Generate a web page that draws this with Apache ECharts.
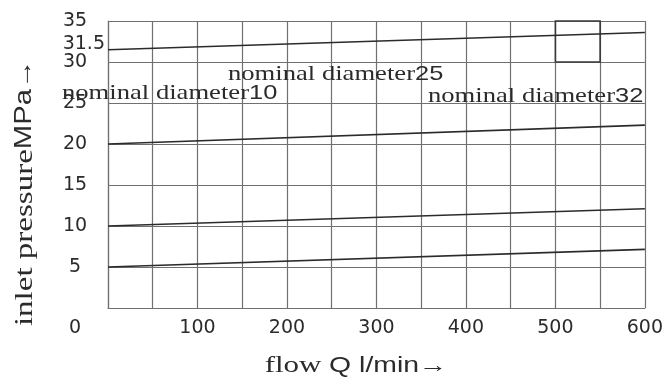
<!DOCTYPE html>
<html>
<head>
<meta charset="utf-8">
<script src="https://cdn.jsdelivr.net/npm/echarts@6/dist/echarts.min.js"></script>
<style>
  html, body { margin: 0; padding: 0; background: #fff; }
  #chart { width: 666px; height: 379px; }
</style>
</head>
<body>
<div id="chart"></div>
<script>
// Flow range covered by each pressure curve (l/min)
const flowQ = [0, 600];
// Inlet pressure curves (MPa) at each flow in flowQ
const curve315 = [31.5, 33.6];
const curve20 = [20, 22.3];
const curve10 = [10, 12.1];
const curve5 = [5, 7.15];
// Rated working window: flow 500–550, pressure 30–35
const windowFlow = [500, 550];
const windowPressure = [30, 35];
// Zone captions
const zoneNames = ['nominal diameter', 'nominal diameter', 'nominal diameter'];
const zoneSizes = ['10', '25', '32'];

const SERIF = '"Liberation Serif", "Times New Roman", serif';
const SANS = '"DejaVu Sans", Arial, sans-serif';
const SANS2 = '"Liberation Sans", Arial, sans-serif';
const INK = '#2b2b2b';
const GRID = '#707070';

const chart = echarts.init(document.getElementById('chart'), null, { renderer: 'canvas' });

function pairs(ys) {
  return flowQ.map((x, i) => [x, ys[i]]);
}

function curve(name, ys, extra) {
  return Object.assign({
    name: name,
    type: 'line',
    data: pairs(ys),
    symbol: 'circle',
    symbolSize: 0,
    showSymbol: true,
    silent: true,
    animation: false,
    itemStyle: { color: INK },
    lineStyle: { color: INK, width: 1.6 },
    z: 5
  }, extra || {});
}

// the starting pressure of the top curve is printed beside the axis
const top315 = pairs(curve315);
top315[0] = {
  value: top315[0],
  label: {
    show: true,
    position: 'left',
    distance: 3,
    offset: [0, -6],
    formatter: p => String(p.value[1]),
    color: INK,
    fontFamily: SANS,
    fontSize: 19
  }
};

const captionRich = {
  s: { fontFamily: SERIF, fontSize: 22, fill: INK },
  n: { fontFamily: SANS2, fontSize: 21, fill: INK }
};

// caption anchored at its left edge, vertically centred on y
function caption(i, x, y) {
  return {
    type: 'text',
    x: x,
    y: y,
    scaleX: 1.21,
    z: 10,
    style: {
      text: '{s|' + zoneNames[i] + '}{n|' + zoneSizes[i] + '}',
      rich: captionRich,
      align: 'left',
      verticalAlign: 'middle',
      fill: INK
    }
  };
}

chart.setOption({
  animation: false,
  backgroundColor: '#fff',
  grid: { left: 108, right: 20, top: 21, bottom: 71, containLabel: false },
  xAxis: {
    type: 'value',
    min: 0,
    max: 600,
    interval: 50,
    axisLine: { show: true, lineStyle: { color: GRID, width: 1.2 } },
    axisTick: { show: false },
    splitLine: { show: true, lineStyle: { color: GRID, width: 1.2 } },
    axisLabel: {
      margin: 11,
      color: INK,
      fontFamily: SANS,
      fontSize: 19,
      formatter: v => (v > 0 && v % 100 === 0 ? String(v) : '')
    }
  },
  yAxis: {
    type: 'value',
    min: 0,
    max: 35,
    interval: 5,
    axisLine: { show: true, lineStyle: { color: GRID, width: 1.2 } },
    axisTick: { show: false },
    splitLine: { show: true, lineStyle: { color: GRID, width: 1.2 } },
    axisLabel: {
      margin: 33,
      align: 'center',
      color: INK,
      fontFamily: SANS,
      fontSize: 19,
      formatter: v => (v === 0 ? '{z|0}' : String(v)),
      rich: {
        z: { padding: [40, 0, 0, 0], fontFamily: SANS, fontSize: 19, color: INK }
      }
    }
  },
  series: [
    curve('31.5 MPa', curve315, {
      data: top315,
      markArea: {
        silent: true,
        itemStyle: { color: 'rgba(0,0,0,0)', borderColor: '#3a3a3a', borderWidth: 1.6 },
        data: [[
          { coord: [windowFlow[0], windowPressure[1]] },
          { coord: [windowFlow[1], windowPressure[0]] }
        ]]
      }
    }),
    curve('20 MPa', curve20),
    curve('10 MPa', curve10),
    curve('5 MPa', curve5)
  ],
  graphic: [
    caption(0, 62, 93),
    caption(1, 228, 74),
    caption(2, 428, 96),
    {
      type: 'text',
      x: 25,
      y: 193,
      rotation: Math.PI / 2,
      scaleX: 1.27,
      style: {
        text: '{s|inlet pressure}{n|MPa→}',
        align: 'center',
        verticalAlign: 'middle',
        rich: {
          s: { fontFamily: SERIF, fontSize: 26, fill: INK },
          n: { fontFamily: SANS2, fontSize: 23, fill: INK }
        }
      }
    },
    {
      type: 'text',
      x: 356,
      y: 366,
      scaleX: 1.29,
      style: {
        text: '{s|flow }{n|Q l/min→}',
        align: 'center',
        verticalAlign: 'middle',
        rich: {
          s: { fontFamily: SERIF, fontSize: 24, fill: INK },
          n: { fontFamily: SANS2, fontSize: 22, fill: INK }
        }
      }
    }
  ]
});
</script>
</body>
</html>
